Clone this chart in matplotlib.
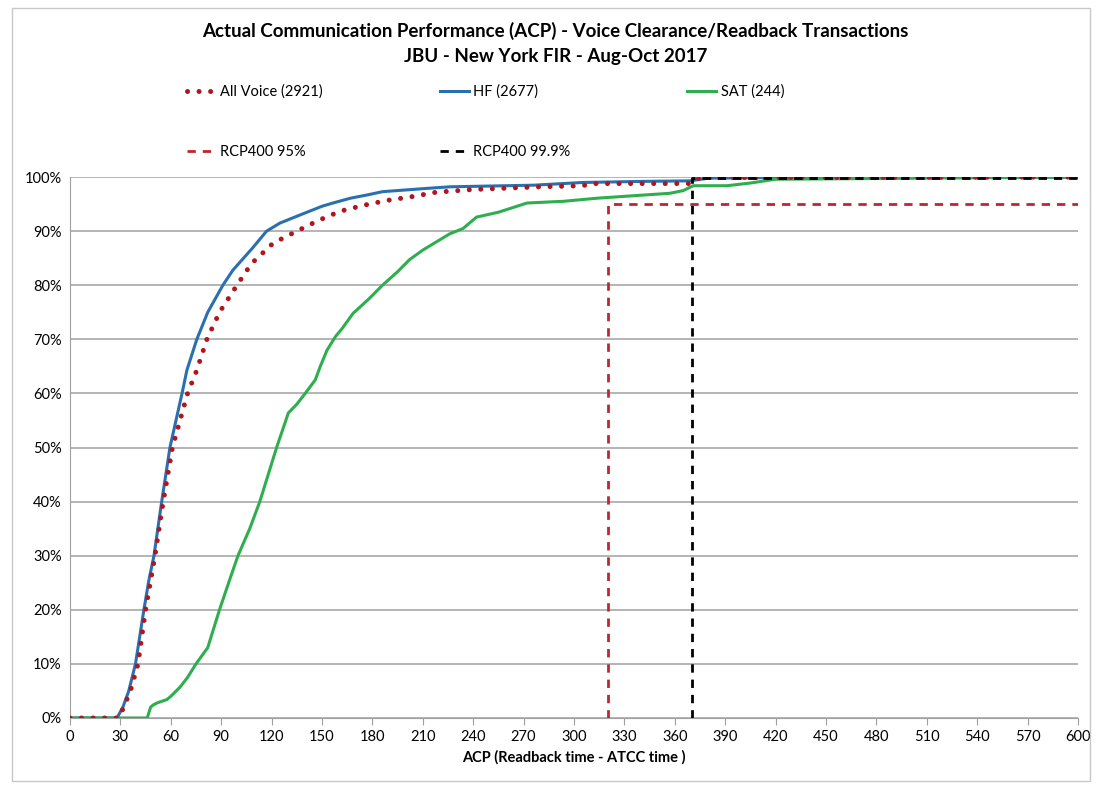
import matplotlib.pyplot as plt
import matplotlib.ticker as mtick
from matplotlib.patches import Rectangle
from matplotlib.lines import Line2D

plt.rcParams['font.family'] = ['Lato', 'DejaVu Sans']

# cumulative % of transactions vs ACP seconds
all_x = [0, 29, 32, 36, 40.5, 45, 50.6, 55.5, 61, 70, 75.5, 81.5, 89, 99.4, 108, 121, 135,
         148, 161, 175, 189, 202, 218, 240, 256, 280, 305, 308, 310, 369, 375, 600]
all_y = [0, 0, 2, 5, 10, 20, 30, 40, 50, 60, 64.3, 70, 75, 80, 84, 87.8, 90,
         92, 93.7, 94.8, 95.7, 96.3, 97.2, 97.7, 97.9, 98.2, 98.4, 98.6, 98.8, 98.8, 99.9, 100]

hf_x = [0, 28, 31.5, 35, 39, 44, 47, 50, 54.6, 59.5, 66.7, 69.6, 75.5, 82, 91, 97, 109, 117,
        125, 137, 150, 156.5, 167, 177, 186, 212, 226, 276, 305, 340, 369, 380, 420, 600]
hf_y = [0, 0, 2, 5, 10, 20, 25.5, 30, 40, 50, 60, 64.3, 70, 75, 80, 82.8, 87, 90,
        91.5, 93.0, 94.6, 95.2, 96.1, 96.7, 97.3, 97.9, 98.2, 98.5, 99, 99.2, 99.3, 99.8, 99.9, 100]

sat_x = [0, 46, 48, 49.5, 52, 57.7, 60, 65.5, 70, 75, 82, 89, 95, 100, 107, 113, 118, 123, 130,
         135, 140, 146, 149, 153, 158, 162, 168.5, 178, 186, 195, 202, 210, 218, 226, 234, 242, 255,
         272, 292, 293, 314, 333, 357, 365, 371, 391, 405, 420, 600]
sat_y = [0, 0, 2, 2.4, 2.8, 3.4, 4, 5.7, 7.5, 10, 13, 20, 25.5, 30, 35, 40, 45, 50, 56.4,
         58, 60, 62.5, 65, 68, 70.5, 72, 74.8, 77.5, 80, 82.5, 84.7, 86.5, 88, 89.5, 90.5, 92.6, 93.5,
         95.2, 95.5, 95.5, 96.1, 96.5, 97, 97.5, 98.4, 98.4, 98.9, 99.6, 100]

rcp95_x = [320, 320, 600]
rcp95_y = [0, 95, 95]
rcp999_x = [370, 370, 600]
rcp999_y = [0, 99.9, 99.9]

xticks = list(range(0, 601, 30))
yticks = list(range(0, 101, 10))

fig = plt.figure(figsize=(11, 7.87), dpi=100)
ax = fig.add_axes([0.0636, 0.0877, 0.9164, 0.6873])

red_dot, = ax.plot(all_x, all_y, color='#b0161e', lw=3.6, linestyle=(0, (0.01, 2.3)),
                   dash_capstyle='round', zorder=4)
hf_line, = ax.plot(hf_x, hf_y, color='#2a6fb0', lw=2.2, zorder=3)
sat_line, = ax.plot(sat_x, sat_y, color='#2fae4f', lw=2.2, zorder=3)
r95, = ax.plot(rcp95_x, rcp95_y, color='#c0272d', lw=2, linestyle=(0, (3, 2.5)), zorder=5)
r999, = ax.plot(rcp999_x, rcp999_y, color='black', lw=2, linestyle=(0, (3, 2.5)), zorder=5)

ax.set_xlim(0, 600)
ax.set_ylim(0, 100)
ax.set_xticks(xticks)
ax.set_yticks(yticks)
ax.yaxis.set_major_formatter(mtick.FormatStrFormatter('%d%%'))
ax.grid(axis='y', color='#b4b4b4', lw=1.4)
ax.set_axisbelow(True)
for s in ['top', 'right']:
    ax.spines[s].set_visible(False)
ax.spines['left'].set_color('#a0a0a0')
ax.spines['bottom'].set_color('#a0a0a0')
ax.tick_params(axis='y', length=0, labelsize=10.5, pad=6)
ax.tick_params(axis='x', length=5, color='#a0a0a0', labelsize=10.5, pad=4)
ax.set_xlabel('ACP (Readback time - ATCC time )', fontsize=10.5, fontweight='bold', labelpad=4)

fig.text(0.505, 0.961, 'Actual Communication Performance (ACP) - Voice Clearance/Readback Transactions',
         ha='center', va='center', fontsize=13.5, fontweight='bold')
fig.text(0.505, 0.928, 'JBU - New York FIR - Aug-Oct 2017',
         ha='center', va='center', fontsize=13.5, fontweight='bold')

leg_dot = Line2D([], [], color='#b0161e', lw=3.6, linestyle=(0, (0.01, 2.3)), dash_capstyle='round')
handles = [leg_dot, r95, hf_line, r999, sat_line]
labels = ['All Voice (2921)', 'RCP400 95%', 'HF (2677)', 'RCP400 99.9%', 'SAT (244)']
fig.legend(handles, labels, ncol=3, loc='upper left', bbox_to_anchor=(0.158, 0.909),
           frameon=False, fontsize=10.5, handlelength=2.0, handletextpad=0.3,
           columnspacing=8.0, labelspacing=3.15)

fig.patches.append(Rectangle((0.011, 0.008), 0.98, 0.982, transform=fig.transFigure,
                             fill=False, edgecolor='#c8c8c8', lw=1))

fig.savefig('out.png', dpi=100)
